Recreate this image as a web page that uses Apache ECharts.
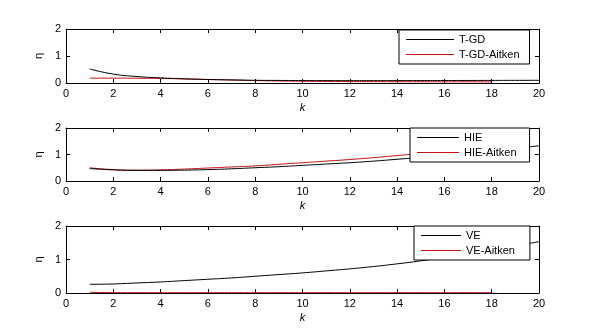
<!DOCTYPE html>
<html><head><meta charset="utf-8">
<script src="https://cdn.jsdelivr.net/npm/echarts@6/dist/echarts.min.js"></script>
<style>html,body{margin:0;padding:0;background:#fff}#c{width:590px;height:331px}</style>
</head><body><div id="c"></div>
<script>
const kFull = [1,2,3,4,5,6,7,8,9,10,11,12,13,14,15,16,17,18,19,20];
const kAitken = [1,2,3,4,5,6,7,8,9,10,11,12,13,14,15,16,17,18];
const xTicks = [0,2,4,6,8,10,12,14,16,18,20];
const yTicks = [0,1,2];

const tgd = [0.52,0.33,0.24,0.19,0.155,0.13,0.115,0.10,0.095,0.09,0.088,0.087,0.087,0.088,0.09,0.092,0.094,0.096,0.098,0.10];
const tgdAitken = [0.18,0.18,0.175,0.17,0.15,0.13,0.11,0.09,0.075,0.065,0.058,0.053,0.05,0.048,0.046,0.045,0.044,0.043];
const hie = [0.47,0.42,0.40,0.40,0.41,0.43,0.46,0.50,0.54,0.59,0.64,0.69,0.75,0.82,0.89,0.97,1.05,1.14,1.23,1.33];
const hieAitken = [0.50,0.43,0.41,0.42,0.45,0.49,0.53,0.57,0.63,0.69,0.75,0.81,0.88,0.96,1.04,1.13,1.22,1.31];
const ve = [0.26,0.27,0.30,0.33,0.37,0.41,0.45,0.50,0.55,0.60,0.66,0.72,0.79,0.87,0.96,1.06,1.17,1.29,1.41,1.53];
const veAitken = [0.02,0.012,0.01,0.01,0.01,0.01,0.01,0.01,0.01,0.01,0.01,0.01,0.01,0.01,0.01,0.01,0.01,0.01];

const panels = [
  {top:29, height:54, names:['T-GD','T-GD-Aitken'], data:[tgd,tgdAitken], leg:{left:399, top:30, w:48, pr:10}},
  {top:128, height:53, names:['HIE','HIE-Aitken'], data:[hie,hieAitken], leg:{left:410, top:128, w:42, pr:13}},
  {top:226, height:67, names:['VE','VE-Aitken'], data:[ve,veAitken], leg:{left:414, top:226, w:40, pr:15}}
];
const FONT = 'Liberation Sans, Arial, sans-serif';
const colors=['#000000','#c81010'];
const grids=[], xAxes=[], yAxes=[], series=[], legends=[];
panels.forEach((p,i)=>{
  grids.push({left:66, right:51, top:p.top, height:p.height, show:false});
  const axLine = {show:true, onZero:false, lineStyle:{color:'#000', width:1}};
  const tick = {show:true, inside:true, length:4, lineStyle:{color:'#000'}};
  xAxes.push({type:'value', gridIndex:i, min:0, max:20, interval:2, position:'bottom',
    axisLine:axLine, axisTick:tick, splitLine:{show:false},
    axisLabel:{color:'#000', fontSize:11, fontFamily:FONT, margin:5},
    name:'k', nameLocation:'middle', nameGap:19,
    nameTextStyle:{color:'#000', fontSize:11, fontStyle:'italic', fontFamily:FONT}});
  xAxes.push({type:'value', gridIndex:i, min:0, max:20, interval:2, position:'top',
    axisLine:axLine, axisTick:tick, axisLabel:{show:false}, splitLine:{show:false}});
  yAxes.push({type:'value', gridIndex:i, min:0, max:2, interval:1, position:'left',
    axisLine:axLine, axisTick:tick, splitLine:{show:false},
    axisLabel:{color:'#000', fontSize:11, fontFamily:FONT, margin:5},
    name:'η', nameLocation:'middle', nameGap:16, nameRotate:90,
    nameTextStyle:{color:'#000', fontSize:11, fontFamily:FONT}});
  yAxes.push({type:'value', gridIndex:i, min:0, max:2, interval:1, position:'right',
    axisLine:axLine, axisTick:tick, axisLabel:{show:false}, splitLine:{show:false}});
  const ks=[kFull,kAitken];
  p.data.forEach((arr,j)=>{
    series.push({type:'line', name:p.names[j], xAxisIndex:2*i, yAxisIndex:2*i,
      data:arr.map((v,n)=>[ks[j][n],v]), symbol:'none', smooth:true, silent:true,
      lineStyle:{color:colors[j], width:1}, itemStyle:{color:colors[j]}, z:j===0?3:2});
  });
  legends.push({data:p.names.map((n,j)=>({name:n, icon:'rect', itemStyle:{color:colors[j]}})),
    orient:'vertical', left:p.leg.left, top:p.leg.top,
    backgroundColor:'#fff', borderColor:'#000', borderWidth:1, borderRadius:0,
    padding:[3,p.leg.pr,3,7], itemGap:2, itemWidth:p.leg.w, itemHeight:1,
    textStyle:{color:'#000', fontSize:11, fontFamily:FONT, lineHeight:13}, selectedMode:false});
});
const chart = echarts.init(document.getElementById('c'), null, {renderer:'canvas'});
chart.setOption({animation:false, backgroundColor:'#fff', grid:grids, xAxis:xAxes, yAxis:yAxes, series:series, legend:legends});
</script></body></html>
